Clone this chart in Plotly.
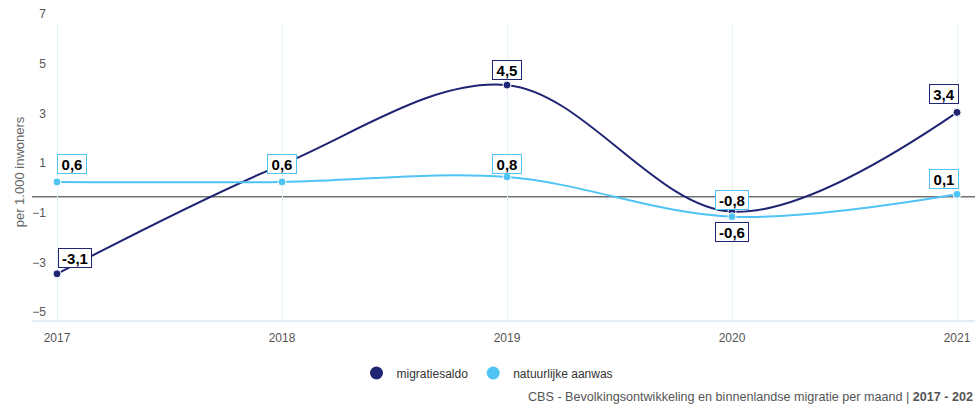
import plotly.graph_objects as go

years = [2017, 2018, 2019, 2020, 2021]
migratiesaldo = [-3.1, 1.3, 4.5, -0.6, 3.4]
natuurlijke_aanwas = [0.6, 0.6, 0.8, -0.8, 0.1]
y_ticks = [-5, -3, -1, 1, 3, 5, 7]
series_names = ["migratiesaldo", "natuurlijke aanwas"]
y_title = "per 1.000 inwoners"
credit_text = "CBS - Bevolkingsontwikkeling en binnenlandse migratie per maand | <b>2017 - 202</b>"

DARK = "#1f2473"
LIGHT = "#4fc3f4"
FONT = "Arial, 'Liberation Sans', sans-serif"

W, H = 975, 406
ML, MR, MT, MB = 47, 0, 23, 85
PW = W - ML - MR
PH = H - MT - MB

fig = go.Figure()

for vals, color in [(migratiesaldo, DARK), (natuurlijke_aanwas, LIGHT)]:
    fig.add_trace(go.Scatter(
        x=years, y=vals, mode="lines+markers",
        line=dict(color=color, width=2, shape="spline", smoothing=1.0),
        marker=dict(color=color, size=8, line=dict(color="white", width=1)),
        showlegend=False, hoverinfo="skip",
    ))

for name, color in zip(series_names, [DARK, LIGHT]):
    fig.add_trace(go.Scatter(
        x=[None], y=[None], mode="markers", name=name,
        marker=dict(color=color, size=13),
    ))

# label offsets (style only): (index, xshift, yshift)
dark_labels = [(0, 18, 16), (2, 0, 15), (3, 0, -20), (4, -13, 18)]
light_labels = [(0, 15, 18), (1, 0, 18), (2, 0, 13), (3, 0, 17), (4, -13, 15)]

def fmt(v):
    return f"{v:.1f}".replace(".", ",")

for vals, color, labs in [(migratiesaldo, DARK, dark_labels), (natuurlijke_aanwas, LIGHT, light_labels)]:
    for i, xs, ys in labs:
        t = fmt(vals[i])
        fig.add_annotation(
            x=years[i], y=vals[i], xref="x", yref="y",
            text=f"<b>{t}</b>", showarrow=False,
            xshift=xs, yshift=ys,
            font=dict(family=FONT, size=15, color="#000000"),
            bgcolor="white", bordercolor=color, borderwidth=1, borderpad=0,
            width=28 if len(t) <= 3 else 32, height=18,
        )

# zero line and bottom axis line extend left of the tick labels
ext = -(ML - 32) / PW
fig.add_shape(type="line", xref="paper", yref="y", x0=ext, x1=1, y0=0, y1=0,
              line=dict(color="#2b2b2b", width=1), layer="below")
fig.add_shape(type="line", xref="paper", yref="paper", x0=ext, x1=1, y0=0, y1=0,
              line=dict(color="#c3dbe6", width=1), layer="below")

fig.add_annotation(
    x=1, y=(MT + PH - 397) / PH, xref="paper", yref="paper", xanchor="right", yanchor="middle",
    text=credit_text, showarrow=False, align="right",
    font=dict(family=FONT, size=12.6, color="#555555"),
)

fig.update_layout(
    width=W, height=H,
    margin=dict(l=ML, r=MR, t=MT, b=MB),
    paper_bgcolor="white", plot_bgcolor="white",
    font=dict(family=FONT, size=12, color="#666666"),
    legend=dict(orientation="h", x=0.5, xanchor="center", xref="container",
                y=(H - 373) / H, yanchor="middle", yref="container",
                font=dict(family=FONT, size=12, color="#333333"),
                itemwidth=30),
    xaxis=dict(
        range=[2017 - 10/225, 2021 + 18/225],
        tickmode="array", tickvals=years, ticktext=[str(y) for y in years],
        showgrid=True, gridcolor="#e3f3f9", gridwidth=1,
        showline=False, zeroline=False, ticks="", automargin=False,
        ticklabelstandoff=8,
        tickfont=dict(size=12, color="#555555"),
    ),
    yaxis=dict(
        range=[-5, 7], tickmode="array", tickvals=y_ticks,
        showgrid=False, zeroline=False, showline=False, ticks="",
        ticklabelshift=-9, automargin=False,
        tickfont=dict(size=12, color="#555555"),
        title=dict(text=y_title, font=dict(size=13, color="#666666"), standoff=4),
    ),
)

fig.write_html("out.html", config={"displayModeBar": False},
               post_script="document.body.style.margin='0px';")
